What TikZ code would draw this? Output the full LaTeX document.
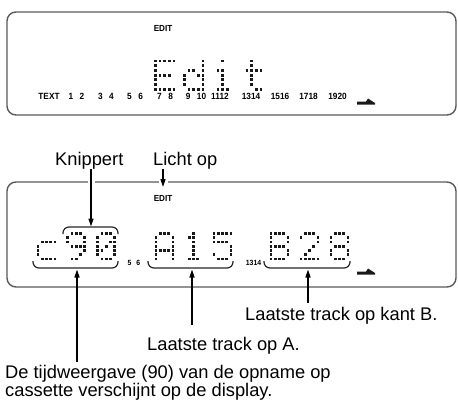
\documentclass[tikz,border=0pt]{standalone}
\usepackage{fontspec}
\setmainfont{Liberation Sans}
\newfontfamily\lcdfont{Liberation Sans}[FakeStretch=0.92]
\usetikzlibrary{arrows.meta}

% ---------- dot-matrix glyph machinery ----------
\newcount\dmc
\newcount\dmr
\def\dmsize{2.8}
\def\dmparse#1{\ifx#1.\else
  \if1#1\fill[dmdot] ({\the\dmc*\dmpitch-\dmsize/2},{\the\dmr*\dmpitch-\dmsize/2}) rectangle +(\dmsize,\dmsize);\fi
  \advance\dmc by 1 \expandafter\dmparse\fi}
\newcommand\dmrow[1]{\dmc=0 \dmparse#1.\advance\dmr by 1 }
\newcommand\dmglyph[4]{\begin{scope}[shift={(#1,#2)}]\def\dmpitch{#3}\dmr=0 #4\end{scope}}

\def\gE{\dmrow{11111}\dmrow{10000}\dmrow{10000}\dmrow{11110}\dmrow{10000}\dmrow{10000}\dmrow{11111}}
\def\gd{\dmrow{00001}\dmrow{00001}\dmrow{01101}\dmrow{10011}\dmrow{10001}\dmrow{10001}\dmrow{01111}}
\def\gi{\dmrow{00100}\dmrow{00000}\dmrow{01100}\dmrow{00100}\dmrow{00100}\dmrow{00100}\dmrow{01110}}
\def\gt{\dmrow{00100}\dmrow{00100}\dmrow{01111}\dmrow{00100}\dmrow{00100}\dmrow{00100}\dmrow{00011}}
\def\gc{\dmrow{00000}\dmrow{00000}\dmrow{01111}\dmrow{10000}\dmrow{10000}\dmrow{10000}\dmrow{01111}}
\def\gnine{\dmrow{01110}\dmrow{10001}\dmrow{10001}\dmrow{01111}\dmrow{00001}\dmrow{00010}\dmrow{01100}}
\def\gzero{\dmrow{01110}\dmrow{10001}\dmrow{10011}\dmrow{10101}\dmrow{11001}\dmrow{10001}\dmrow{01110}}
\def\gA{\dmrow{01110}\dmrow{10001}\dmrow{10001}\dmrow{10001}\dmrow{11111}\dmrow{10001}\dmrow{10001}}
\def\gone{\dmrow{00100}\dmrow{01100}\dmrow{00100}\dmrow{00100}\dmrow{00100}\dmrow{00100}\dmrow{01110}}
\def\gfive{\dmrow{11111}\dmrow{10000}\dmrow{11110}\dmrow{00001}\dmrow{00001}\dmrow{10001}\dmrow{01110}}
\def\gB{\dmrow{11110}\dmrow{10001}\dmrow{10001}\dmrow{11110}\dmrow{10001}\dmrow{10001}\dmrow{11110}}
\def\gtwo{\dmrow{01110}\dmrow{10001}\dmrow{00001}\dmrow{00010}\dmrow{00100}\dmrow{01000}\dmrow{11111}}
\def\geight{\dmrow{01110}\dmrow{10001}\dmrow{10001}\dmrow{01110}\dmrow{10001}\dmrow{10001}\dmrow{01110}}

\newcommand\lcdarrow[1]{\fill[dmdot,shift={#1}] (0,0) -- (9,0) -- (11,-3) -- (18,1.5) -- (18,3) -- (0,3) -- cycle;}
\def\g{\hspace{6.5pt}}

\begin{document}
\begin{tikzpicture}[x=1pt,y=-1pt,
  panel/.style={draw=black!65,line width=1.4pt,rounded corners=9pt},
  brk/.style={draw=black!85,line width=1.2pt,rounded corners=6pt},
  arr/.style={draw=black,line width=1.5pt,-{Triangle[length=8pt,width=5pt]}},
  lbl/.style={inner sep=0pt,font=\fontsize{18.3}{18}\selectfont},
  lcd/.style={inner sep=0pt,font=\lcdfont\bfseries\fontsize{8.8}{8.8}\selectfont,anchor=base},
  lcdn/.style={inner sep=0pt,font=\lcdfont\bfseries\fontsize{9}{9}\selectfont,anchor=base},
  lcds/.style={inner sep=0pt,font=\lcdfont\bfseries\fontsize{7.5}{7.5}\selectfont,anchor=base},
  dmdot/.style={fill=black!90}]
\useasboundingbox (0,0) rectangle (458,400);

% ---------------- top panel ----------------
\draw[panel] (7,12) rectangle (456,115);
\node[lcd] (edit1) at (163,31.7) {EDIT};
\dmglyph{155.2}{61}{4.7}{\gE}
\dmglyph{184.2}{61}{4.7}{\gd}
\dmglyph{213.2}{61}{4.7}{\gi}
\dmglyph{242.2}{61}{4.7}{\gt}
\node[lcdn] (ntext) at (49,99) {TEXT};
\node[lcdn] (n12) at (76.5,99) {1\g2};
\node[lcdn] (n34) at (106,99) {3\g4};
\node[lcdn] (n56) at (135,99) {5\g6};
\node[lcdn] (n78) at (165,99) {7\g8};
\node[lcdn] (n910) at (196,99) {9\g10};
\node[lcdn] (n1112) at (220,99) {1112};
\node[lcdn] (n1314) at (251,99) {1314};
\node[lcdn] (n1516) at (280,99) {1516};
\node[lcdn] (n1718) at (308.5,99) {1718};
\node[lcdn] (n1920) at (337.5,99) {1920};
\lcdarrow{(357,101.5)}

% ---------------- bottom panel ----------------
\draw[panel] (7,182) rectangle (456,287);
\fill[white] (87.5,178) rectangle (94.5,186);
\fill[white] (158.5,178) rectangle (167.5,186);
\node[lcd] (edit2) at (163,201.7) {EDIT};

\dmglyph{38}{233.5}{4.25}{\gc}
\dmglyph{67.7}{233.5}{4.25}{\gnine}
\dmglyph{97.7}{233.5}{4.25}{\gzero}
\dmglyph{156}{233.5}{4.25}{\gA}
\dmglyph{185}{233.5}{4.25}{\gone}
\dmglyph{214}{233.5}{4.25}{\gfive}
\dmglyph{271}{233.5}{4.25}{\gB}
\dmglyph{301}{233.5}{4.25}{\gtwo}
\dmglyph{331}{233.5}{4.25}{\geight}

\node[lcds] (m56) at (134,265) {5\hspace{5pt}6};
\node[lcds] (m1314) at (253.5,265.5) {1314};
\lcdarrow{(357,271.5)}

% brackets
\draw[brk] (63,234) -- (63,227) -- (118,227) -- (118,234);
\draw[brk] (33,261) -- (33,268) -- (118,268) -- (118,261);
\draw[brk] (148,261) -- (148,268) -- (233,268) -- (233,261);
\draw[brk] (264,261) -- (264,268) -- (350,268) -- (350,261);

% labels
\node[lbl,anchor=base west] (knip) at (55,165) {Knippert};
\node[lbl,anchor=base west] (licht) at (153,165) {Licht op};
\node[lbl,anchor=base west] (lastb) at (245,320) {Laatste track op kant B.};
\node[lbl,anchor=base west] (lasta) at (147,350) {Laatste track op A.};
\node[lbl,anchor=north west,align=left] (tijd) at (5,364.8) {De tijdweergave (90) van de opname op\\cassette verschijnt op de display.};

% connectors
\coordinate (knipend) at (91,226.5);
\coordinate (lichtend) at (163,187);
\coordinate (c90tip) at (77,269.5);
\coordinate (a15tip) at (192,269.5);
\coordinate (b28tip) at (308,269.5);
\coordinate (c90tail) at (77,362);
\coordinate (a15tail) at (192,325);
\coordinate (b28tail) at (308,303);
\draw[arr] (knip.south -| knipend) -- (knipend);
\draw[arr] (licht.south -| lichtend) -- (lichtend);
\draw[arr] (c90tail) -- (c90tip);
\draw[arr] (a15tail) -- (a15tip);
\draw[arr] (b28tail) -- (b28tip);
\end{tikzpicture}
\end{document}
